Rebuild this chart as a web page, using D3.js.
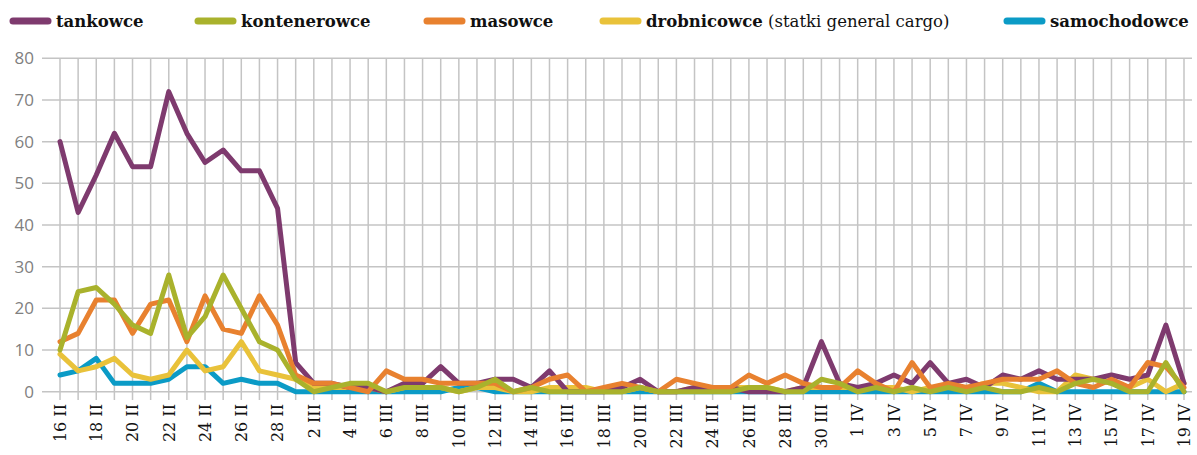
<!DOCTYPE html>
<html>
<head>
<meta charset="utf-8">
<script src="https://cdn.jsdelivr.net/npm/d3@7"></script>
<style>
	body { margin: 0; background: #fff; }
</style>
</head>
<body>
<svg id="chart" width="1197" height="455"></svg>
<script>
// Days (16 II - 19 IV)
const days = [
	"16 II","17 II","18 II","19 II","20 II","21 II","22 II","23 II","24 II","25 II","26 II","27 II","28 II",
	"1 III","2 III","3 III","4 III","5 III","6 III","7 III","8 III","9 III","10 III","11 III","12 III","13 III",
	"14 III","15 III","16 III","17 III","18 III","19 III","20 III","21 III","22 III","23 III","24 III","25 III",
	"26 III","27 III","28 III","29 III","30 III","31 III",
	"1 IV","2 IV","3 IV","4 IV","5 IV","6 IV","7 IV","8 IV","9 IV","10 IV","11 IV","12 IV","13 IV","14 IV",
	"15 IV","16 IV","17 IV","18 IV","19 IV"
];

const tankowce = [60,43,52,62,54,54,72,62,55,58,53,53,44,
	7,2,2,1,1,0,2,2,6,2, 2,3,3,1,5,0,0,0,1,3, 0,0,1,1,1,0,0,0,1,12,
	2,1,2,4,2,7,2,3,1,4, 3,5,3,3,3,4,3,4,16,2];
const kontenerowce = [10,24,25,21,16,14,28,13,18,28,20,12,10,
	3,0,1,2,2,0,1,1,1,0, 1,3,0,1,0,0,0,0,0,1, 0,0,0,0,0,1,1,0,0,3,
	2,0,1,0,1,0,1,0,1,0, 0,1,0,2,3,2,0,0,7,0];
const masowce = [12,14,22,22,14,21,22,12,23,15,14,23,16,
	4,2,2,1,0,5,3,3,2,2, 2,2,0,1,3,4,0,1,2,1, 0,3,2,1,1,4,2,4,2,1,
	1,5,2,0,7,1,2,1,2,3, 3,3,5,2,1,3,1,7,6,1];
const drobnicowce = [9,5,6,8,4,3,4,10,5,6,12,5,4,
	3,1,1,1,1,0,1,1,1,0, 1,1,0,0,1,1,1,0,0,1, 0,0,1,1,1,1,1,0,1,1,
	1,1,1,1,0,1,1,1,2,2, 1,0,0,4,3,2,1,3,0,2];
const samochodowce = [4,5,8,2,2,2,3,6,6,2,3,2,2,
	0,0,0,0,0,0,0,0,0,1, 1,0,0,0,0,0,0,0,0,0, 0,0,0,0,0,0,0,0,0,0,
	0,0,0,0,0,0,0,0,0,0, 0,2,0,0,0,0,0,0,0,0];

const yTicks = [0, 10, 20, 30, 40, 50, 60, 70, 80];

const series = [
	{ name: "tankowce", extra: "", values: tankowce, color: "#7e3a6e" },
	{ name: "kontenerowce", extra: "", values: kontenerowce, color: "#a9b22c" },
	{ name: "masowce", extra: "", values: masowce, color: "#e8812f" },
	{ name: "drobnicowce", extra: " (statki general cargo)", values: drobnicowce, color: "#e9c23a" },
	{ name: "samochodowce", extra: "", values: samochodowce, color: "#0b9bc6" }
];

// Layout
const legendX = [10, 195, 424, 600, 1004];
const drawOrder = ["samochodowce", "drobnicowce", "tankowce", "masowce", "kontenerowce"];

const svg = d3.select("#chart");

const x = d3.scalePoint()
	.domain(days)
	.range([60, 1184]);

const y = d3.scaleLinear()
	.domain([0, 80])
	.range([391.7, 58.3]);

// Horizontal grid
svg.append("g")
	.selectAll("line")
	.data(yTicks)
	.enter()
	.append("line")
	.attr("x1", 42)
	.attr("x2", 1192)
	.attr("y1", d => y(d))
	.attr("y2", d => y(d))
	.attr("stroke", "#c4c4c4")
	.attr("stroke-width", 1.5);

// Vertical grid (one per day, running down as ticks)
svg.append("g")
	.selectAll("line")
	.data(days)
	.enter()
	.append("line")
	.attr("x1", d => x(d))
	.attr("x2", d => x(d))
	.attr("y1", y(80))
	.attr("y2", 400)
	.attr("stroke", "#c4c4c4")
	.attr("stroke-width", 1.5);

// Y axis labels
svg.append("g")
	.selectAll("text")
	.data(yTicks)
	.enter()
	.append("text")
	.attr("x", 34)
	.attr("y", d => y(d))
	.attr("dy", "0.35em")
	.attr("text-anchor", "end")
	.style("font-family", "'Open Sans', sans-serif")
	.style("font-size", "17px")
	.style("fill", "#808080")
	.text(d => d);

// X axis labels (every other day)
svg.append("g")
	.selectAll("text")
	.data(days.filter((d, i) => i % 2 === 0))
	.enter()
	.append("text")
	.attr("transform", d => `translate(${x(d)},404) rotate(-90)`)
	.attr("dy", "0.36em")
	.attr("text-anchor", "end")
	.style("font-family", "'DejaVu Serif', serif")
	.style("font-size", "16px")
	.style("fill", "#111")
	.text(d => d);

// Lines
const line = d3.line()
	.x((d, i) => x(days[i]))
	.y(d => y(d));

svg.append("g")
	.selectAll("path")
	.data(drawOrder.map(n => series.find(s => s.name === n)))
	.enter()
	.append("path")
	.attr("d", d => line(d.values))
	.attr("fill", "none")
	.attr("stroke", d => d.color)
	.attr("stroke-width", 5)
	.attr("stroke-linejoin", "round")
	.attr("stroke-linecap", "round");

// Legend
const legend = svg.append("g")
	.selectAll("g")
	.data(series)
	.enter()
	.append("g")
	.attr("transform", (d, i) => `translate(${legendX[i]},0)`);

legend.append("line")
	.attr("x1", 3)
	.attr("x2", 38)
	.attr("y1", 21)
	.attr("y2", 21)
	.attr("stroke", d => d.color)
	.attr("stroke-width", 7)
	.attr("stroke-linecap", "round");

const label = legend.append("text")
	.attr("x", 46)
	.attr("y", 27)
	.style("font-family", "'DejaVu Serif', serif")
	.style("font-size", "16.5px")
	.style("fill", "#111");

label.append("tspan")
	.style("font-weight", "bold")
	.text(d => d.name);

label.append("tspan")
	.text(d => d.extra);
</script>
</body>
</html>
